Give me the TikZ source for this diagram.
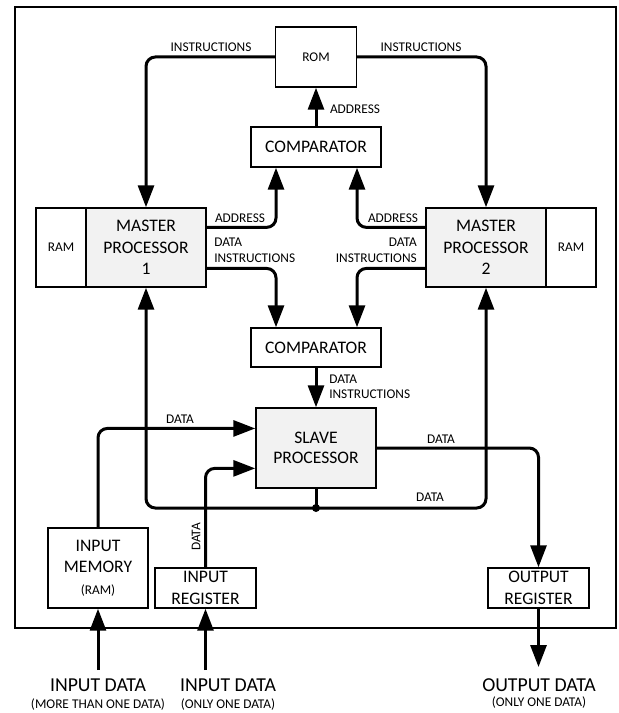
\documentclass[tikz,border=0pt]{standalone}
\usepackage{fontspec}
\setmainfont{Carlito}
\usetikzlibrary{arrows.meta,calc}
\newcommand\fsmall{\fontsize{10}{12}\selectfont}
\newcommand\fmed{\fontsize{13.2}{16}\selectfont}
\newcommand\fbig{\fontsize{14.8}{18}\selectfont}
\definecolor{procgray}{RGB}{242,242,242}
\begin{document}
\begin{tikzpicture}[x=0.75pt,y=-0.75pt,
  box/.style={draw, line width=1.1pt, inner sep=0pt, align=center, font=\fmed},
  proc/.style={box, fill=procgray},
  conn/.style={line width=2.25pt, rounded corners=7pt, -{Triangle[length=16.5pt,width=12pt]}},
  plain/.style={line width=2.25pt, rounded corners=7pt},
  lbl/.style={font=\fsmall, inner sep=0pt},
  biglbl/.style={font=\fbig, inner sep=0pt},
]
\useasboundingbox (0,0) rectangle (618,713);
\draw[line width=1.1pt] (15,7) rectangle (616,628);

% boxes
\node[box, font=\fsmall, minimum width=60.75pt, minimum height=45pt] (rom) at (316,57) {ROM};
\node[box, minimum width=97.5pt, minimum height=30pt] (comp1) at (316,147) {COMPARATOR};
\node[box, font=\fsmall, minimum width=37.5pt, minimum height=59.25pt] (m1ram) at (61,247.5) {RAM};
\node[proc, minimum width=90pt, minimum height=59.25pt] (m1) at (146,247.5) {MASTER\\PROCESSOR\\1};
\node[proc, minimum width=90pt, minimum height=59.25pt] (m2) at (486,247.5) {MASTER\\PROCESSOR\\2};
\node[box, font=\fsmall, minimum width=37.5pt, minimum height=59.25pt] (m2ram) at (571,247.5) {RAM};
\node[box, minimum width=97.5pt, minimum height=29.25pt] (comp2) at (316,347.5) {COMPARATOR};
\node[proc, font=\fontsize{13.2}{15}\selectfont, minimum width=90pt, minimum height=60pt] (slave) at (316,448) {SLAVE\\PROCESSOR};
\node[box, minimum width=75pt, minimum height=60pt] (inmem) at (98,568) {INPUT\\MEMORY\\{\fsmall(RAM)}};
\node[box, minimum width=75.75pt, minimum height=30pt] (inreg) at (205.5,588) {INPUT\\REGISTER};
\node[box, minimum width=75.75pt, minimum height=30pt] (outreg) at (538.5,588) {OUTPUT\\REGISTER};

% helper coordinates
\coordinate (m1addr) at ($(m1.north east)!0.25!(m1.south east)$);
\coordinate (m1data) at ($(m1.north east)!0.76!(m1.south east)$);
\coordinate (m2addr) at ($(m2.north west)!0.25!(m2.south west)$);
\coordinate (m2data) at ($(m2.north west)!0.76!(m2.south west)$);
\coordinate (c1l) at ($(comp1.south)+(-40,0)$);
\coordinate (c1r) at ($(comp1.south)+(41,0)$);
\coordinate (c2l) at ($(comp2.north)+(-40,0)$);
\coordinate (c2r) at ($(comp2.north)+(41,0)$);
\coordinate (slin1) at ($(slave.north west)!0.26!(slave.south west)$);
\coordinate (slin2) at ($(slave.north west)!0.75!(slave.south west)$);
\coordinate (dot) at (316,508);
\coordinate (in1) at (98,670);
\coordinate (in2) at (205.5,670);
\coordinate (out) at (538.5,667);

% connectors
\draw[conn] (rom.west) -| (m1.north);
\draw[conn] (rom.east) -| (m2.north);
\draw[conn] (comp1.north) -- (rom.south);
\draw[conn] (m1addr) -| (c1l);
\draw[conn] (m2addr) -| (c1r);
\draw[conn] (m1data) -| (c2l);
\draw[conn] (m2data) -| (c2r);
\draw[conn] (comp2.south) -- (slave.north);
\draw[conn] (inmem.north) |- (slin1);
\draw[conn] (inreg.north) |- (slin2);
\draw[conn] (slave.east) -| (outreg.north);
\draw[plain] (slave.south) -- (dot);
\draw[conn] (dot) -| (m1.south);
\draw[conn] (dot) -| (m2.south);
\fill (dot) circle (3pt);
\draw[conn] (outreg.south) -- (out);
\draw[conn] (in1) -- (inmem.south);
\draw[conn] (in2) -- (inreg.south);

% labels
\node[lbl] (l1) at (211,47) {INSTRUCTIONS};
\node[lbl] (l2) at (421,47) {INSTRUCTIONS};
\node[lbl] (l3) at (355,109) {ADDRESS};
\node[lbl] (l4) at (240,218) {ADDRESS};
\node[lbl] (l5) at (393,218) {ADDRESS};
\node[lbl, anchor=west] (l6) at (214,242) {DATA};
\node[lbl, anchor=west] (l7) at (214,258) {INSTRUCTIONS};
\node[lbl, anchor=east] (l8) at (417,242) {DATA};
\node[lbl, anchor=east] (l9) at (417,258) {INSTRUCTIONS};
\node[lbl, anchor=west] (l10) at (329,379) {DATA};
\node[lbl, anchor=west] (l11) at (329,394) {INSTRUCTIONS};
\node[lbl] (l12) at (180,419) {DATA};
\node[lbl, rotate=90] (l13) at (196,537) {DATA};
\node[lbl] (l14) at (441,439) {DATA};
\node[lbl] (l15) at (430,497) {DATA};
\node[biglbl] (b1) at (98,685) {INPUT DATA};
\node[lbl] (b2) at (98,705) {(MORE THAN ONE DATA)};
\node[biglbl] (b3) at (228,685) {INPUT DATA};
\node[lbl] (b4) at (228,705) {(ONLY ONE DATA)};
\node[biglbl] (b5) at (539,685) {OUTPUT DATA};
\node[lbl] (b6) at (539,703) {(ONLY ONE DATA)};
\end{tikzpicture}
\end{document}
